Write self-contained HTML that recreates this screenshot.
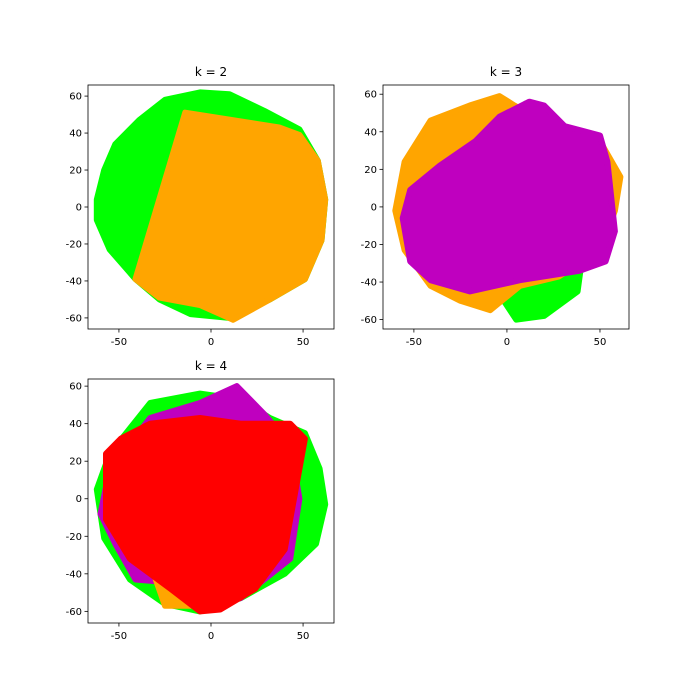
<!DOCTYPE html>
<html><head><meta charset="utf-8"><style>
body{margin:0;background:#fff;}
svg{display:block;font-family:"DejaVu Sans","Liberation Sans",sans-serif;}
</style></head><body>
<svg id="fig" width="700" height="700" viewBox="0 0 700 700"></svg>
<script>
const titles = ["k = 2", "k = 3", "k = 4"];
const xTicks = [-50, 0, 50];
const yTicks = [-60, -40, -20, 0, 20, 40, 60];
const colorNames = ["lime", "orange", "purple", "red"];
const colorValues = ["#00ff00", "#ffa500", "#bf00bf", "#ff0000"];
// clusters per panel (data coordinates as boundary points)
const p1Green = [[-62,4],[-58,20],[-52,34],[-39,47],[-25,58],[-6,62],[10,61],[29,52],[48,42],[58,25],[62,4],[60,-18],[51,-39],[32,-50],[10,-60],[-11,-58],[-28,-50],[-41,-39],[-55,-23],[-62,-7]];
const p1Orange = [[-14,51],[37,43],[48,39],[58,25],[62,4],[60,-18],[51,-39],[32,-50],[12,-61],[-6,-53],[-28,-49],[-41,-39]];
const p2Green = [[10,55],[35,40],[50,20],[40,-30],[38,-45],[20,-58],[5,-60],[-5,-45],[0,-30]];
const p2Orange = [[-60,-2],[-55,24],[-41,46],[-20,54],[-4,59],[4,54],[28,40],[50,35],[61,16],[58,-2],[50,-23],[28,-37],[7,-42],[-9,-55],[-25,-50],[-41,-42],[-55,-23]];
const p2Purple = [[-56,-6],[-52,9],[-36,22],[-17,35],[-4,48],[12,56],[20,54],[31,43],[50,38],[54,24],[58,-13],[53,-29],[39,-34],[7,-39],[-20,-45],[-41,-39],[-52,-29]];
const p3Green = [[-62,5],[-55,24],[-33,51],[-6,56],[16,53],[32,43],[51,35],[59,16],[62,-3],[57,-24],[40,-40],[16,-53],[-6,-60],[-25,-56],[-44,-43],[-58,-21],[-60,-8]];
const p3Purple = [[-60,-8],[-55,16],[-33,43],[-6,51],[14,60],[29,45],[43,29],[48,0],[43,-32],[16,-53],[-17,-45],[-41,-43],[-52,-24]];
const p3Orange = [[-30,-43],[-25,-57],[-11,-57],[-6,-48]];
const p3Red = [[-57,24],[-49,32],[-33,40],[-6,43],[16,40],[43,40],[51,32],[46,5],[40,-27],[24,-48],[5,-59],[-6,-60],[-22,-48],[-44,-32],[-57,-11]];

const panels = [
  {box:[88,85,334,329], xd:[-66.8,66.8], yd:[66,-66], clusters:[[p1Green,0],[p1Orange,1]]},
  {box:[383,85,629,329], xd:[-66.6,65.6], yd:[64.9,-65], clusters:[[p2Green,0],[p2Orange,1],[p2Purple,2]]},
  {box:[88,379,334,623], xd:[-66.8,66.8], yd:[63.8,-66.2], clusters:[[p3Green,0],[p3Purple,2],[p3Orange,1],[p3Red,3]]}
];
const NS="http://www.w3.org/2000/svg";
const svg=document.getElementById('fig');
function mk(tag,attrs,parent){const e=document.createElementNS(NS,tag);for(const k in attrs)e.setAttribute(k,attrs[k]);parent.appendChild(e);return e;}
panels.forEach((p,i)=>{
  const [x0,y0,x1,y1]=p.box;
  const sx=v=>x0+(v-p.xd[0])/(p.xd[1]-p.xd[0])*(x1-x0);
  const sy=v=>y0+(v-p.yd[0])/(p.yd[1]-p.yd[0])*(y1-y0);
  const g=mk('g',{},svg);
  
  
  p.clusters.forEach(([pts,ci])=>{
    const poly=mk('polygon',{points:pts.map(q=>sx(q[0]).toFixed(1)+','+sy(q[1]).toFixed(1)).join(' '),fill:colorValues[ci],stroke:colorValues[ci],'stroke-width':6,'stroke-linejoin':'round'},g);
    
    
  });
  const fr=mk('rect',{x:x0,y:y0,width:x1-x0,height:y1-y0,fill:'none',stroke:'#000','stroke-width':0.8},g);
  
  
  xTicks.forEach(t=>{
    const x=sx(t);
    mk('line',{x1:x,x2:x,y1:y1,y2:y1+3.5,stroke:'#000','stroke-width':0.8},g);
    const tx=mk('text',{x:x,y:y1+16,'font-size':10,'text-anchor':'middle'},g);
    tx.textContent=t;
    
    
  });
  yTicks.forEach(t=>{
    const y=sy(t);
    mk('line',{x1:x0-3.5,x2:x0,y1:y,y2:y,stroke:'#000','stroke-width':0.8},g);
    const ty=mk('text',{x:x0-6,y:y+3.5,'font-size':10,'text-anchor':'end'},g);
    ty.textContent=t;
    
    
  });
  const tt=mk('text',{x:(x0+x1)/2,y:y0-9,'font-size':12,'text-anchor':'middle'},g);
  tt.textContent=titles[i];
  
  
});
</script>
</body></html>
